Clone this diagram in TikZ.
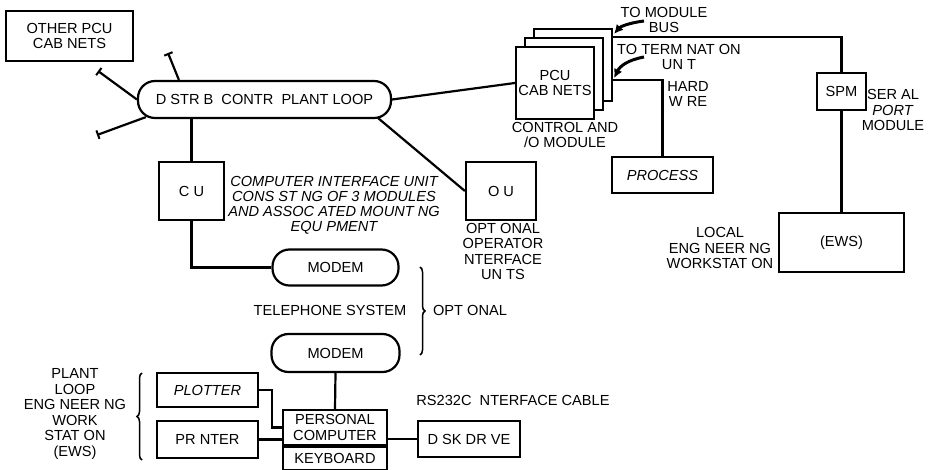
\documentclass[tikz,border=0pt]{standalone}
\usepackage{fontspec}
\setmainfont{Liberation Sans}
\usetikzlibrary{arrows.meta,calc,decorations.pathreplacing}
\begin{document}
\begin{tikzpicture}[x=1pt,y=-1pt,
  every node/.style={font=\fontsize{14.6}{15.5}\selectfont, align=center, inner sep=0pt},
  box/.style={draw, line width=2.2pt, fill=white},
  pill/.style={draw, line width=2.2pt, rounded corners=17pt},
  wire/.style={line width=2.2pt},
  stub/.style={line width=2.2pt, -{Bar[width=9pt,line width=2pt]}},
  bracestyle/.style={line width=1.5pt, decorate, decoration={brace, amplitude=5pt}},
  curvedarrow/.style={line width=3pt, -{Latex[length=9pt,width=9pt]}},
  itlab/.style={font=\fontsize{14.6}{15}\selectfont\itshape}
]
\useasboundingbox (0,0) rectangle (935,470);

% nodes
\node[box, minimum width=127pt, minimum height=50pt] (other) at (69.5,36) {OTHER PCU\\CAB NETS};
\node[pill, minimum width=253pt, minimum height=37pt] (loop) at (264.5,99.5) {D STR B\ \ CONTR\ \ PLANT LOOP};
\node[box, minimum width=65pt, minimum height=58pt] (ciu) at (191.5,191) {C U};
\node[itlab] (cilab) at (334,205) {COMPUTER INTERFACE UNIT\\CONS ST NG OF 3 MODULES\\AND ASSOC ATED MOUNT NG\\EQU PMENT};
\node[box, minimum width=70pt, minimum height=58pt] (oiu) at (501,191) {O U};
\node[anchor=north] (oiulab) at (503,223) {OPT ONAL\\OPERATOR\\NTERFACE\\UN TS};

\node[box, minimum width=78pt, minimum height=72pt] (pcu3) at (573,65) {};
\node[box, minimum width=78pt, minimum height=72pt] (pcu2) at (564,74) {};
\node[box, minimum width=78pt, minimum height=72pt] (pcu) at (555,83) {PCU\\CAB NETS};
\node (pculab) at (565,135) {CONTROL AND\\/O MODULE};

\node (buslab) at (664,20) {TO MODULE\\BUS};
\node (termlab) at (679,57) {TO TERM NAT ON\\UN T};
\node (hw) at (688,94) {HARD\\W RE};
\node[box, minimum width=101pt, minimum height=36pt, itlab] (process) at (662.5,175) {PROCESS};

\node[box, minimum width=49pt, minimum height=37pt] (spm) at (841.5,91.5) {SPM};
\node (spmlab) at (893,110) {SER AL\\\textit{PORT}\\MODULE};
\node[box, minimum width=125pt, minimum height=59pt] (ews) at (841.5,242.5) {(EWS)};
\node (locallab) at (720,248) {LOCAL\\ENG NEER NG\\WORKSTAT ON};

\node[pill, minimum width=126pt, minimum height=36pt] (modem1) at (335.5,267.5) {MODEM};
\node (tel) at (330,310) {TELEPHONE SYSTEM};
\node[pill, minimum width=128pt, minimum height=38pt] (modem2) at (335.5,353) {MODEM};
\node (opt) at (470,310) {OPT ONAL};

\node[box, minimum width=104pt, minimum height=35pt] (pc) at (335,427.5) {PERSONAL\\COMPUTER};
\node[box, minimum width=104pt, minimum height=23pt, anchor=north] (kb) at (pc.south) {KEYBOARD};
\node[box, minimum width=102pt, minimum height=36pt] (disk) at (469,439) {D SK DR VE};
\node (rs) at (513,400) {RS232C\ \ NTERFACE CABLE};
\node[box, minimum width=101pt, minimum height=34pt, itlab] (plotter) at (207.5,390) {PLOTTER};
\node[box, minimum width=101pt, minimum height=37pt] (printer) at (207.5,439.5) {PR NTER};
\node (plantlab) at (75,414) {PLANT\\LOOP\\ENG NEER NG\\WORK\\STAT ON\\(EWS)};

% free ends
\coordinate (t1) at (168,53);
\coordinate (t2) at (98,71);
\coordinate (t3) at (97,135);
\coordinate (a1) at (644,21);
\coordinate (a2) at (644,57);

% stubs
\draw[stub] ($(loop.north west)+(42,0)$) -- (t1);
\draw[stub] (loop.west) -- (t2);
\draw[stub] ($(loop.south west)+(9,-2)$) -- (t3);

% connectors
\draw[wire] (ciu.north |- loop.south) -- (ciu.north);
\draw[wire] ($(loop.south east)+(-14,-1)$) -- (oiu.west);
\draw[wire] (loop.east) -- (pcu.west);
\draw[wire] (ciu.south) |- (modem1.west);
\draw[wire] (modem2.south) -- (pc.north);
\draw[wire] (disk.west) -- (disk.west -| pc.east);
\draw[wire] (plotter.east) -| ($(pc.west)+(-10,0)$) -- (pc.west);
\draw[wire] (printer.east) -- (printer.east -| pc.west);
\draw[wire] ($(pcu3.north east)+(0,9)$) -| (spm.north);
\draw[wire] (spm.south) -- (ews.north);
\draw[wire] ($(pcu3.south east)+(0,-22)$) -| (process.north);

% curved arrows
\draw[curvedarrow] (a1) .. controls (628,23) and (620,27) .. ($(pcu3.north east)+(1,6)$);
\draw[curvedarrow] (a2) .. controls (628,60) and (620,66) .. ($(pcu3.south east)+(1,-24)$);

% braces
\draw[bracestyle] (420,267) -- (420,355);
\draw[bracestyle] (142,460) -- (142,373);
\end{tikzpicture}
\end{document}
